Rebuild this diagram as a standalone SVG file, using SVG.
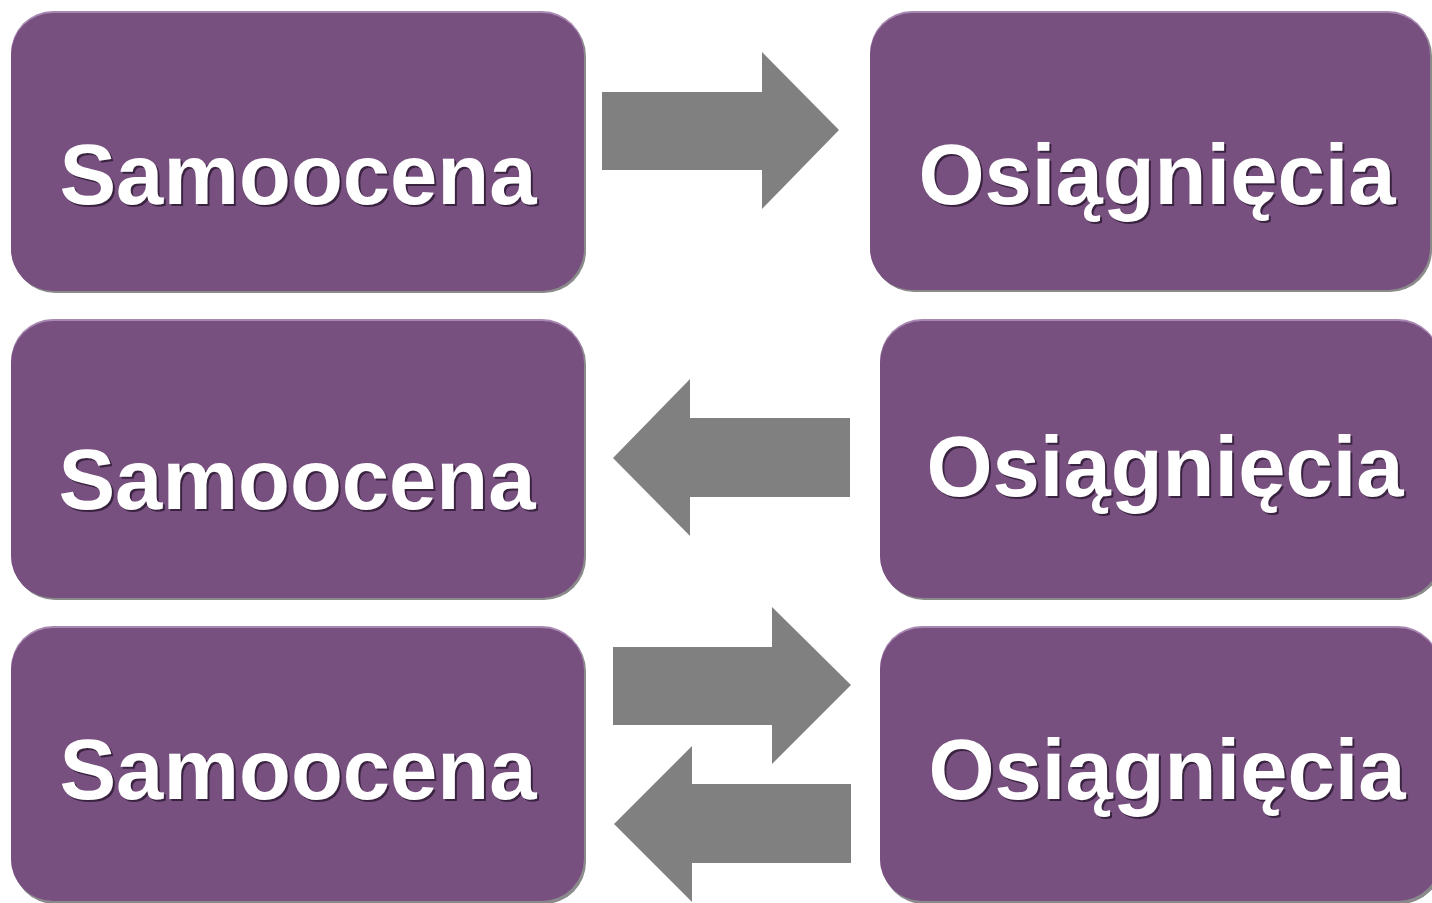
<svg xmlns="http://www.w3.org/2000/svg" width="1432" height="903" viewBox="0 0 1432 903">
  <style>
    .sh { fill: #8a8a8a; }
    .hl { fill: #a888b2; }
    .box { fill: #77507f; }
    .lbl { font-family: "Liberation Sans", Arial, sans-serif; font-weight: bold; font-size: 85px; text-anchor: middle; }
    .tsh { fill: #3a2340; }
    .txt { fill: #ffffff; }
    .arr { fill: #808080; }
  </style>
  <rect width="1432" height="903" fill="#ffffff"/>

  <g id="node-samoocena-1">
    <rect class="sh" x="13" y="14" width="573" height="279" rx="42"/>
    <rect class="hl" x="11" y="11" width="573" height="279" rx="42"/>
    <rect class="box" x="11" y="13" width="573" height="278" rx="42"/>
    <text class="lbl tsh" x="300" y="206">Samoocena</text>
    <text class="lbl txt" x="298" y="204">Samoocena</text>
  </g>
  <g id="node-osiagniecia-1">
    <rect class="sh" x="872" y="14" width="560" height="278" rx="42"/>
    <rect class="hl" x="870" y="11" width="560" height="278" rx="42"/>
    <rect class="box" x="870" y="13" width="560" height="277" rx="42"/>
    <text class="lbl tsh" x="1159" y="206">Osiągnięcia</text>
    <text class="lbl txt" x="1157" y="204">Osiągnięcia</text>
  </g>

  <g id="node-samoocena-2">
    <rect class="sh" x="13" y="322" width="573" height="278" rx="42"/>
    <rect class="hl" x="11" y="319" width="573" height="278" rx="42"/>
    <rect class="box" x="11" y="321" width="573" height="277" rx="42"/>
    <text class="lbl tsh" x="299" y="511">Samoocena</text>
    <text class="lbl txt" x="297" y="509">Samoocena</text>
  </g>
  <g id="node-osiagniecia-2">
    <rect class="sh" x="882" y="322" width="560" height="278" rx="42"/>
    <rect class="hl" x="880" y="319" width="560" height="278" rx="42"/>
    <rect class="box" x="880" y="321" width="560" height="277" rx="42"/>
    <text class="lbl tsh" x="1167" y="498">Osiągnięcia</text>
    <text class="lbl txt" x="1165" y="496">Osiągnięcia</text>
  </g>

  <g id="node-samoocena-3">
    <rect class="sh" x="13" y="629" width="573" height="275" rx="42"/>
    <rect class="hl" x="11" y="626" width="573" height="275" rx="42"/>
    <rect class="box" x="11" y="628" width="573" height="273" rx="42"/>
    <text class="lbl tsh" x="300" y="801">Samoocena</text>
    <text class="lbl txt" x="298" y="799">Samoocena</text>
  </g>
  <g id="node-osiagniecia-3">
    <rect class="sh" x="882" y="629" width="560" height="275" rx="42"/>
    <rect class="hl" x="880" y="626" width="560" height="275" rx="42"/>
    <rect class="box" x="880" y="628" width="560" height="273" rx="42"/>
    <text class="lbl tsh" x="1169" y="801">Osiągnięcia</text>
    <text class="lbl txt" x="1167" y="799">Osiągnięcia</text>
  </g>

  <g id="connectors">
    <polygon class="arr" points="602,92 762,92 762,52 839,130 762,209 762,170 602,170"/>
    <polygon class="arr" points="850,418 690,418 690,379 613,458 690,536 690,497 850,497"/>
    <polygon class="arr" points="613,647 772,647 772,607 851,685 772,764 772,725 613,725"/>
    <polygon class="arr" points="851,784 692,784 692,746 614,824 692,902 692,863 851,863"/>
  </g>
</svg>
